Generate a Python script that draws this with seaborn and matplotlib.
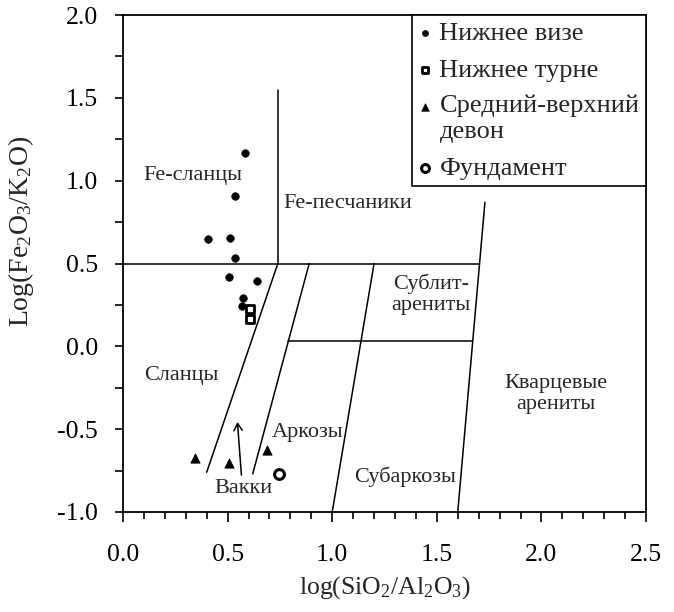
import matplotlib
matplotlib.use("Agg")
import matplotlib.pyplot as plt
from matplotlib.ticker import MultipleLocator, FormatStrFormatter
from matplotlib.offsetbox import HPacker, TextArea
import seaborn as sns
import pandas as pd

# ---- data ----
vise_x = [0.581, 0.534, 0.406, 0.513, 0.537, 0.505, 0.640, 0.572, 0.569]
vise_y = [1.165, 0.905, 0.649, 0.655, 0.535, 0.418, 0.396, 0.293, 0.243]
tourn_x = [0.606, 0.609]
tourn_y = [0.225, 0.165]
devon_x = [0.345, 0.505, 0.686]
devon_y = [-0.676, -0.703, -0.626]
base_x = [0.745]
base_y = [-0.771]

group_labels = ["Нижнее визе", "Нижнее турне", "Средний-верхний\nдевон", "Фундамент"]

# classification field boundaries (Herron, 1988)
boundary_lines = [
    ([0.0, 1.70], [0.5, 0.5]),
    ([0.74, 0.74], [0.5, 1.55]),
    ([0.74, 0.40], [0.5, -0.76]),
    ([0.89, 0.62], [0.5, -0.77]),
    ([1.20, 1.00], [0.5, -1.0]),
    ([1.60, 1.73], [-1.0, 0.87]),
    ([0.79, 1.67], [0.03, 0.03]),
]
field_names = ["Fe-сланцы", "Fe-песчаники", "Сублит-\nарениты", "Сланцы",
               "Кварцевые\nарениты", "Аркозы", "Вакки", "Субаркозы"]
field_x = [0.335, 1.075, 1.473, 0.278, 2.07, 0.88, 0.576, 1.35]
field_y = [1.03, 0.86, 0.315, -0.173, -0.29, -0.52, -0.861, -0.79]

arrow_from = (0.566, -0.777)
arrow_to = (0.547, -0.457)

# ---- style ----
sns.set_style("white")
plt.rcParams["font.family"] = ["Liberation Serif", "DejaVu Serif"]
plt.rcParams["mathtext.fontset"] = "custom"
plt.rcParams["mathtext.rm"] = "Liberation Serif"
plt.rcParams["mathtext.it"] = "Liberation Serif:italic"

fig = plt.figure(figsize=(6.74, 6.12), dpi=100)
ax = fig.add_axes([0.1825, 0.1634, 0.776, 0.812])

for xs, ys in boundary_lines:
    ax.plot(xs, ys, color="black", lw=1.1, zorder=1)

df_v = pd.DataFrame({"x": vise_x, "y": vise_y})
df_t = pd.DataFrame({"x": tourn_x, "y": tourn_y})
df_d = pd.DataFrame({"x": devon_x, "y": devon_y})
df_b = pd.DataFrame({"x": base_x, "y": base_y})

sns.scatterplot(data=df_v, x="x", y="y", ax=ax, marker="o", s=30,
                color="black", edgecolor="black", label=group_labels[0], zorder=3)
sns.scatterplot(data=df_t, x="x", y="y", ax=ax, marker="s", s=38,
                facecolor="white", edgecolor="black", linewidth=2.0,
                label=group_labels[1], zorder=3)
sns.scatterplot(data=df_d, x="x", y="y", ax=ax, marker="^", s=45,
                color="black", edgecolor="black", label=group_labels[2], zorder=3)
sns.scatterplot(data=df_b, x="x", y="y", ax=ax, marker="o", s=50,
                facecolor="white", edgecolor="black", linewidth=2.2,
                label=group_labels[3], zorder=3)

for name, fx, fy in zip(field_names, field_x, field_y):
    ax.text(fx, fy, name, ha="center", va="center", fontsize=16,
            linespacing=1.15, zorder=2)

ax.annotate("", xy=arrow_to, xytext=arrow_from,
            arrowprops=dict(arrowstyle="->,head_length=0.5,head_width=0.3",
                            color="black", lw=1.1, shrinkA=0, shrinkB=0))

ax.set_xlim(0, 2.5)
ax.set_ylim(-1.0, 2.0)
ax.xaxis.set_major_locator(MultipleLocator(0.5))
ax.xaxis.set_minor_locator(MultipleLocator(0.1))
ax.yaxis.set_major_locator(MultipleLocator(0.5))
ax.yaxis.set_minor_locator(MultipleLocator(0.25))
ax.xaxis.set_major_formatter(FormatStrFormatter("%.1f"))
ax.yaxis.set_major_formatter(FormatStrFormatter("%.1f"))
ax.tick_params(axis="both", which="both", direction="out", colors="black",
               labelsize=18.5, bottom=True, left=True, top=False, right=False)
ax.tick_params(axis="x", which="major", length=7, width=1.2, pad=16)
ax.tick_params(axis="x", which="minor", length=5, width=1.2)
ax.tick_params(axis="y", which="major", length=6, width=1.2, pad=12)
ax.tick_params(axis="y", which="minor", length=6, width=1.2)
for sp in ax.spines.values():
    sp.set_visible(True)
    sp.set_color("black")
    sp.set_linewidth(1.3)

ax.set_xlabel(r"log(SiO$_\mathregular{2}$/Al$_\mathregular{2}$O$_\mathregular{3}$)",
              fontsize=18.5, labelpad=6)
ax.set_ylabel(r"Log(Fe$_\mathregular{2}$O$_\mathregular{3}$/K$_\mathregular{2}$O)",
              fontsize=20)
ax.yaxis.set_label_coords(-0.166, 0.565)

leg = ax.legend(loc="upper right", bbox_to_anchor=(1.0, 1.0), fontsize=19,
                frameon=True, fancybox=False, shadow=False, borderaxespad=0,
                handletextpad=0.3, handlelength=0.5, labelspacing=0.5,
                borderpad=0.25, markerscale=0.8)
leg.get_frame().set_edgecolor("black")
leg.get_frame().set_linewidth(1.2)
leg.get_frame().set_facecolor("white")
leg.get_frame().set_alpha(1)

# align the marker of the two-line entry with its first line
for hp in leg.findobj(HPacker):
    kids = hp.get_children()
    if any(isinstance(k, TextArea) and "\n" in k.get_text() for k in kids):
        hp.align = "top"

fig.savefig("out.png", dpi=100)
